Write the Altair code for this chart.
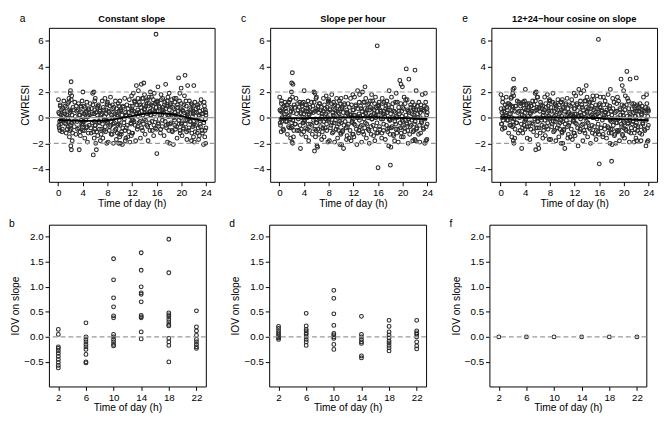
import altair as alt
import pandas as pd

FONT = "Liberation Sans, Arial, sans-serif"

times = [
    0.05, 0.12, 0.2, 0.28, 0.35, 0.45, 0.55, 0.68, 0.8, 0.92,
    1.05, 1.15, 1.3, 1.42, 1.55, 1.65, 1.75, 1.82, 1.9, 1.96,
    2.0, 2.05, 2.1, 2.15, 2.2, 2.28, 2.4, 2.55, 2.7, 2.88,
    3.02, 3.15, 3.3, 3.42, 3.5, 3.6, 3.72, 3.8, 3.88, 3.95,
    4.02, 4.1, 4.2, 4.32, 4.45, 4.55, 4.65, 4.75, 4.85, 4.95,
    5.05, 5.2, 5.35, 5.5, 5.6, 5.7, 5.78, 5.85, 5.92, 5.97,
    6.02, 6.1, 6.2, 6.3, 6.42, 6.55, 6.65, 6.75, 6.85, 6.95,
    7.05, 7.15, 7.25, 7.4, 7.5, 7.6, 7.7, 7.8, 7.88, 7.95,
    8.02, 8.12, 8.25, 8.38, 8.5, 8.6, 8.72, 8.8, 8.9, 8.97,
    9.05, 9.2, 9.3, 9.45, 9.55, 9.65, 9.75, 9.82, 9.9, 9.96,
    10.02, 10.1, 10.2, 10.3, 10.42, 10.55, 10.68, 10.8, 10.9, 10.97,
    11.05, 11.15, 11.3, 11.42, 11.55, 11.65, 11.75, 11.85, 11.92, 11.97,
    12.02, 12.1, 12.2, 12.32, 12.45, 12.58, 12.7, 12.8, 12.9, 12.96,
    13.02, 13.12, 13.25, 13.35, 13.5, 13.6, 13.7, 13.8, 13.9, 13.96,
    14.02, 14.12, 14.25, 14.4, 14.5, 14.6, 14.72, 14.8, 14.9, 14.97,
    15.05, 15.15, 15.3, 15.4, 15.5, 15.6, 15.7, 15.8, 15.88, 15.95,
    16.02, 16.1, 16.2, 16.3, 16.45, 16.6, 16.7, 16.8, 16.9, 16.97,
    17.05, 17.2, 17.3, 17.45, 17.55, 17.65, 17.75, 17.82, 17.9, 17.96,
    18.02, 18.1, 18.2, 18.3, 18.42, 18.55, 18.7, 18.8, 18.9, 18.97,
    19.05, 19.15, 19.3, 19.42, 19.55, 19.65, 19.75, 19.82, 19.9, 19.97,
    20.02, 20.12, 20.25, 20.35, 20.5, 20.6, 20.7, 20.8, 20.9, 20.97,
    21.02, 21.15, 21.3, 21.4, 21.55, 21.65, 21.75, 21.85, 21.92, 21.97,
    22.02, 22.1, 22.2, 22.3, 22.45, 22.6, 22.7, 22.8, 22.9, 22.97,
    23.05, 23.2, 23.35, 23.5, 23.6, 23.7, 23.8, 23.88, 23.95, 24.0,
]

times2 = [
    0.08, 0.18, 0.24, 0.32, 0.4, 0.5, 0.62, 0.74, 0.86, 0.97,
    1.1, 1.22, 1.35, 1.48, 1.6, 1.7, 1.78, 1.86, 1.92, 1.98,
    2.02, 2.08, 2.12, 2.18, 2.25, 2.35, 2.48, 2.62, 2.78, 2.95,
    3.08, 3.22, 3.36, 3.46, 3.55, 3.66, 3.76, 3.84, 3.9, 3.98,
    4.05, 4.15, 4.26, 4.38, 4.5, 4.6, 4.7, 4.8, 4.9, 4.98,
    5.1, 5.28, 5.42, 5.55, 5.65, 5.74, 5.82, 5.88, 5.94, 5.99,
    6.05, 6.15, 6.25, 6.36, 6.48, 6.6, 6.7, 6.8, 6.9, 6.98,
    7.1, 7.2, 7.32, 7.45, 7.55, 7.65, 7.75, 7.84, 7.92, 7.98,
    8.06, 8.18, 8.3, 8.44, 8.55, 8.66, 8.76, 8.85, 8.93, 8.99,
    9.1, 9.25, 9.38, 9.5, 9.6, 9.7, 9.78, 9.86, 9.93, 9.98,
    10.05, 10.15, 10.25, 10.36, 10.48, 10.6, 10.74, 10.85, 10.93, 10.99,
    11.1, 11.22, 11.36, 11.48, 11.6, 11.7, 11.8, 11.88, 11.94, 11.99,
    12.05, 12.15, 12.26, 12.38, 12.5, 12.64, 12.75, 12.85, 12.93, 12.99,
    13.06, 13.18, 13.3, 13.42, 13.55, 13.65, 13.75, 13.85, 13.93, 13.99,
    14.06, 14.18, 14.32, 14.45, 14.55, 14.66, 14.76, 14.85, 14.93, 14.99,
    15.1, 15.22, 15.35, 15.45, 15.55, 15.65, 15.75, 15.84, 15.92, 15.98,
    16.06, 16.15, 16.25, 16.38, 16.52, 16.65, 16.75, 16.85, 16.93, 16.99,
    17.1, 17.25, 17.38, 17.5, 17.6, 17.7, 17.78, 17.86, 17.93, 17.98,
    18.05, 18.15, 18.25, 18.36, 18.48, 18.62, 18.75, 18.85, 18.93, 18.99,
    19.1, 19.22, 19.36, 19.48, 19.6, 19.7, 19.78, 19.86, 19.93, 19.99,
    20.06, 20.18, 20.3, 20.42, 20.55, 20.65, 20.75, 20.85, 20.93, 20.99,
    21.08, 21.22, 21.35, 21.48, 21.6, 21.7, 21.8, 21.88, 21.94, 21.99,
    22.05, 22.15, 22.25, 22.38, 22.52, 22.65, 22.75, 22.85, 22.93, 22.99,
    23.1, 23.28, 23.42, 23.55, 23.65, 23.75, 23.84, 23.9, 23.97, 23.99,
]

cwresi_a = [
    1.4, -0.6, 0.3, -1.0, 1.0, -0.2, 0.6, -0.9, 0.1, 1.3,
    -0.4, 0.9, -1.2, 0.2, 1.1, -0.7, 1.5, -1.5, 0.4, 1.9,
    2.1, -2.2, 2.8, -2.5, 1.7, -1.8, 0.8, -0.3, 1.2, -1.3,
    0.5, -0.9, 1.1, -2.5, 0.2, -1.4, 0.8, -0.5, 1.3, -1.0,
    2.0, -0.3, 0.9, -1.6, 0.4, -0.8, 1.2, -1.9, 0.1, 0.7,
    -0.6, 1.1, -1.2, 0.3, 1.9, -2.9, 2.0, -1.6, 0.6, -0.9,
    1.5, -2.0, -2.5, 0.8, -1.4, 1.0, -0.4, 0.5, -1.8, 0.2,
    -0.9, 1.3, -1.6, 0.6, -0.2, 1.5, -1.1, 0.3, -2.0, 1.0,
    1.2, -1.9, 0.4, -0.7, 1.6, -1.3, 0.0, 1.0, -0.5, -2.0,
    0.8, -1.0, 1.3, -1.7, 0.2, -0.6, 1.1, -2.0, 0.5, -1.3,
    1.3, -2.0, 0.6, -1.1, -2.1, 0.9, -0.4, 1.5, -1.8, 0.2,
    -0.8, 1.0, -1.5, 0.4, 1.4, -1.9, 0.1, -0.5, 1.7, -1.2,
    0.6, -1.2, 1.9, -0.3, 1.2, -1.8, 2.5, 0.3, -0.7, 1.5,
    2.1, -0.4, 1.0, -1.6, 2.6, 0.5, -1.0, 1.5, 2.7, -0.1,
    1.8, -1.3, 0.9, -0.6, 1.4, -1.8, 0.4, 1.1, -1.0, 2.0,
    0.2, 1.6, -1.0, 0.9, -1.4, 1.9, 0.5, -0.8, 6.5, 1.2,
    -2.8, 1.3, 2.4, -0.5, 0.8, -1.2, 1.8, 0.2, -0.7, 1.5,
    0.6, -1.4, 1.2, 2.6, -0.6, 0.9, -1.9, 1.6, 0.1, -1.0,
    1.9, -2.0, 1.0, -0.4, 1.4, -1.1, -2.1, 0.7, -0.2, 1.2,
    -0.9, 1.5, -1.6, 0.8, 3.1, -0.5, 1.9, -1.2, 0.4, 2.3,
    1.1, -1.4, 0.5, -0.8, 1.7, 3.3, -0.2, 0.9, -1.7, 0.2,
    2.5, -1.0, 1.3, -0.3, 0.6, -1.8, 1.0, -0.7, 0.3, -1.5,
    2.5, -1.9, 1.2, -0.6, 0.4, -1.2, 0.8, -1.7, 0.1, 1.1,
    -0.5, 1.4, -1.0, 0.3, -2.1, 1.2, -1.5, 0.6, -2.0, 0.2,
]
cwresi_a2 = [
    0.4, -0.8, -0.3, 0.9, -0.5, 0.2, -1.1, 0.7, -0.2, 0.5,
    0.3, -0.5, 0.8, -0.9, 0.0, 1.2, -0.3, 0.6, -1.0, -0.6,
    0.5, -0.9, 1.4, -0.4, 0.2, -1.2, 0.6, -0.7, 0.1, 0.9,
    -0.3, 0.6, -0.8, 0.2, -1.1, 0.9, -0.2, 0.4, -0.6, 0.1,
    -0.5, 0.3, -1.0, 0.8, -0.2, 0.5, -0.7, 0.1, -1.2, 0.6,
    0.2, -0.8, 0.7, -0.4, 1.0, -1.1, 0.3, -0.3, 1.3, -0.6,
    -0.6, 0.4, -1.1, 0.2, 0.9, -0.3, -0.9, 0.6, -0.1, -1.3,
    0.3, -0.5, 0.8, -1.0, 0.1, -0.7, 0.6, -0.2, 1.1, -0.4,
    -0.3, 0.5, -1.0, 0.9, -0.6, 0.2, -1.3, 0.7, -0.1, 0.4,
    -0.4, 0.3, -0.9, 0.7, -1.2, 0.1, -0.5, 0.9, -0.2, -1.5,
    -0.6, 0.5, -1.3, 0.2, -0.8, 0.8, -0.1, -1.0, 0.4, -1.6,
    0.2, -0.6, 0.7, -1.1, 0.1, 0.9, -0.4, -1.4, 0.5, -0.2,
    0.9, -0.2, 0.5, 1.3, -0.6, 0.3, 1.0, -0.9, 0.6, 0.1,
    0.4, 1.2, -0.3, 0.8, -0.8, 1.5, 0.2, -0.5, 1.0, 0.6,
    0.7, -0.2, 1.3, 0.3, -0.7, 0.9, 1.6, -0.4, 0.5, 0.2,
    1.0, -0.3, 0.6, 1.4, -0.6, 0.3, 1.1, -0.1, 0.8, -0.9,
    0.5, 1.2, -0.4, 0.9, 0.2, -0.9, 1.4, 0.6, -0.2, 0.8,
    0.4, 1.0, -0.3, 0.7, -0.8, 1.3, 0.2, -0.5, 0.9, 0.1,
    0.6, -0.5, 1.1, 0.3, -1.0, 0.8, 0.0, 1.5, -0.6, 0.4,
    0.2, -0.7, 1.0, 0.5, -0.2, 1.3, -1.0, 0.7, 0.0, -0.5,
    -0.4, 0.6, -0.9, 1.0, 0.1, -0.5, 1.3, -1.1, 0.4, -0.2,
    0.3, -0.8, 0.7, -0.3, 1.1, -1.2, 0.1, 0.5, -0.6, 0.9,
    -0.5, 0.4, -1.1, 0.7, -0.2, 1.0, -0.8, 0.2, -1.4, 0.5,
    -0.7, 0.3, -1.2, 0.6, -0.4, 0.9, -1.0, -0.1, 0.4, -0.8,
]

cwresi_c = [
    1.6, -0.4, 0.5, -1.1, 1.3, 0.0, 0.8, -1.0, 0.3, 1.2,
    -0.3, 1.0, -1.3, 0.1, 1.2, -0.8, 1.4, -1.6, 0.5, 2.0,
    2.7, -1.9, 3.5, -2.0, 2.6, -1.5, 1.0, -0.5, 1.5, -1.0,
    0.6, -1.0, 1.2, -2.4, 0.3, -1.3, 0.9, -0.4, 1.2, -1.1,
    2.1, -0.2, 1.0, -1.5, 0.5, -0.9, 1.3, -1.8, 0.2, 0.8,
    -0.5, 1.2, -1.3, 0.4, 2.0, -2.6, 1.9, -1.5, 0.7, -1.0,
    1.6, -2.2, -2.3, 0.9, -1.3, 1.1, -0.3, 0.6, -1.7, 0.3,
    -0.8, 1.5, -1.5, 0.7, -0.1, 1.7, -1.0, 0.4, -1.9, 1.2,
    1.4, -1.8, 0.6, -0.6, 1.8, -1.2, 0.2, 1.2, -0.4, -1.9,
    1.0, -0.9, 1.5, -1.6, 0.4, -0.5, 1.3, -2.1, 0.7, -1.2,
    1.5, -2.1, 0.8, -1.0, -2.4, 1.1, -0.3, 1.6, -1.7, 0.4,
    -0.7, 1.1, -1.6, 0.3, 1.5, -1.8, 0.0, -0.4, 1.8, -1.3,
    0.2, -1.5, 1.6, -0.6, 0.9, -2.1, 2.1, 0.0, -1.0, 1.2,
    1.8, -0.7, 0.7, -1.9, 2.0, 0.2, -1.3, 1.2, 2.4, -0.4,
    1.5, -1.6, 0.6, -0.9, 1.1, -2.0, 0.1, 0.8, -1.3, 1.8,
    -0.1, 1.3, -1.4, 0.6, -1.8, 1.6, 0.2, -1.2, 5.6, 0.9,
    -3.9, 1.0, 1.2, -0.9, 0.5, -1.6, 1.5, -0.1, -1.0, 1.2,
    0.3, -1.7, 0.9, 1.3, -0.9, 0.6, -2.2, 2.1, -0.2, -1.3,
    -3.7, -2.3, 1.6, -0.7, 1.1, -1.4, -1.8, 0.4, -0.5, 1.9,
    -1.2, 1.2, -1.9, 0.5, 2.9, -0.8, 2.6, -1.5, 0.1, 2.4,
    0.8, -1.5, 1.6, -1.1, 1.4, 3.8, -0.5, 0.6, -2.0, -0.1,
    3.0, -1.3, 1.0, -0.6, 0.3, -1.8, 0.7, -1.0, 0.0, -1.7,
    3.7, -1.8, 2.1, -0.8, 0.3, -1.3, 0.6, -1.9, 0.0, 1.0,
    -0.3, 1.8, -0.8, 0.5, -2.0, 1.9, -1.8, 0.8, -1.7, 0.4,
]
cwresi_c2 = [
    0.6, -0.6, -0.1, 1.1, -0.3, 0.4, -0.9, 0.9, 0.0, 0.7,
    0.5, -0.3, 1.0, -0.7, 0.2, 1.4, -0.1, 0.8, -0.8, -0.4,
    0.7, -0.7, 1.6, -0.2, 0.4, -1.0, 0.8, -0.5, 0.3, 1.1,
    -0.1, 0.8, -0.6, 0.4, -0.9, 1.1, 0.0, 0.6, -0.4, 0.3,
    -0.3, 0.5, -0.8, 1.0, 0.0, 0.7, -0.5, 0.3, -1.0, 0.8,
    0.4, -0.6, 0.9, -0.2, 1.2, -0.9, 0.5, -0.1, 1.5, -0.4,
    -0.4, 0.6, -0.9, 0.4, 1.1, -0.1, -0.7, 0.8, 0.1, -1.1,
    0.5, -0.3, 1.0, -0.8, 0.3, -0.5, 0.8, 0.0, 1.3, -0.2,
    -0.1, 0.7, -0.8, 1.1, -0.4, 0.4, -1.1, 0.9, 0.1, 0.6,
    -0.2, 0.5, -0.7, 0.9, -1.0, 0.3, -0.3, 1.1, 0.0, -1.3,
    -0.4, 0.7, -1.1, 0.4, -0.6, 1.0, 0.1, -0.8, 0.6, -1.4,
    0.3, -0.5, 0.8, -1.0, 0.2, 1.0, -0.3, -1.3, 0.6, -0.1,
    0.6, -0.5, 0.2, 1.0, -0.9, 0.0, 0.7, -1.2, 0.3, -0.2,
    0.1, 0.9, -0.6, 0.5, -1.1, 1.2, -0.1, -0.8, 0.7, 0.3,
    0.4, -0.5, 1.0, 0.0, -1.0, 0.6, 1.3, -0.7, 0.2, -0.1,
    0.7, -0.6, 0.3, 1.1, -0.9, 0.0, 0.8, -0.4, 0.5, -1.2,
    0.2, 0.9, -0.7, 0.6, -0.1, -1.2, 1.1, 0.3, -0.5, 0.5,
    0.1, 0.7, -0.6, 0.4, -1.1, 1.0, -0.1, -0.8, 0.6, -0.2,
    0.3, -0.8, 0.8, 0.0, -1.3, 0.5, -0.3, 1.2, -0.9, 0.1,
    0.0, -0.9, 0.8, 0.3, -0.4, 1.1, -1.2, 0.5, -0.2, -0.7,
    -0.3, 0.7, -0.8, 1.1, 0.2, -0.4, 1.4, -1.0, 0.5, -0.1,
    0.4, -0.7, 0.8, -0.2, 1.2, -1.1, 0.2, 0.6, -0.5, 1.0,
    -0.3, 0.6, -0.9, 0.9, 0.0, 1.2, -0.6, 0.4, -1.2, 0.7,
    -0.4, 0.6, -0.9, 0.9, -0.1, 1.2, -0.7, 0.2, 0.7, -0.5,
]

cwresi_e = [
    1.8, -0.5, 0.4, -0.9, 1.5, 0.1, 0.7, -0.8, 0.2, 1.6,
    -0.2, 1.1, -1.2, 0.3, 1.0, -0.6, 1.6, -1.5, 0.6, 1.9,
    2.2, -1.8, 3.0, -2.0, 2.3, -1.6, 0.9, -0.4, 1.3, -1.2,
    0.5, -1.0, 1.1, -2.4, 0.2, -1.2, 1.0, -0.6, 1.3, -0.9,
    2.2, -0.1, 1.0, -1.6, 0.6, -0.7, 1.1, -1.7, 0.3, 0.9,
    -0.4, 1.3, -1.1, 0.5, 1.9, -2.5, 2.0, -1.4, 0.8, -0.8,
    1.6, -2.1, -2.4, 0.8, -1.2, 1.0, -0.2, 0.7, -1.6, 0.4,
    -0.7, 1.6, -1.4, 0.8, 0.0, 1.8, -0.9, 0.5, -1.7, 1.3,
    1.3, -1.7, 0.5, -0.5, 1.9, -1.1, 0.1, 1.1, -0.3, -1.8,
    0.9, -0.8, 1.4, -1.5, 0.3, -0.4, 1.2, -2.0, 0.6, -1.1,
    1.4, -2.0, 0.7, -0.9, -2.4, 1.0, -0.2, 1.5, -1.6, 0.3,
    -0.6, 1.0, -1.5, 0.2, 1.4, -1.7, 0.1, -0.3, 1.9, -1.2,
    0.3, -1.4, 1.7, -0.5, 1.0, -2.2, 2.2, 0.1, -0.9, 1.3,
    1.9, -0.6, 0.8, -1.8, 2.1, 0.3, -1.2, 1.3, 2.5, -0.3,
    1.6, -1.5, 0.7, -0.8, 1.2, -2.0, 0.2, 0.9, -1.2, 1.7,
    0.0, 1.4, -1.3, 0.7, -1.7, 1.7, 0.3, -1.1, 6.1, 1.0,
    -3.6, 1.1, 1.6, -0.8, 0.6, -1.5, 1.6, 0.0, -0.9, 1.3,
    0.4, -1.6, 1.0, 1.8, -0.8, 0.7, -2.0, 2.2, -0.1, -1.2,
    -3.4, -2.1, 1.5, -0.6, 1.2, -1.3, -2.0, 0.5, -0.4, 1.6,
    -1.1, 1.3, -1.8, 0.6, 3.0, -0.7, 2.5, -1.4, 0.2, 2.1,
    0.9, -1.6, 1.7, -1.0, 3.6, 1.5, -0.4, 0.7, -1.9, 0.0,
    3.0, -1.2, 1.1, -0.5, 0.4, -1.9, 0.8, -0.9, 0.1, -1.6,
    3.1, -1.8, 1.0, -0.7, 0.5, -1.2, 0.7, -1.8, 0.2, 0.9,
    -0.4, 1.6, -0.9, 0.4, -2.2, 1.8, -1.9, 0.7, -1.8, 0.5,
]
cwresi_e2 = [
    0.7, -0.5, 0.0, 1.2, -0.2, 0.5, -0.8, 1.0, 0.1, 0.8,
    0.6, -0.2, 1.1, -0.6, 0.3, 1.5, 0.0, 0.9, -0.7, -0.3,
    0.8, -0.6, 1.7, -0.1, 0.5, -0.9, 0.9, -0.4, 0.4, 1.2,
    0.0, 0.9, -0.5, 0.5, -0.8, 1.2, 0.1, 0.7, -0.3, 0.4,
    -0.2, 0.6, -0.7, 1.1, 0.1, 0.8, -0.4, 0.4, -0.9, 0.9,
    0.5, -0.5, 1.0, -0.1, 1.3, -0.8, 0.6, 0.0, 1.6, -0.3,
    -0.3, 0.7, -0.8, 0.5, 1.2, 0.0, -0.6, 0.9, 0.2, -1.0,
    0.6, -0.2, 1.1, -0.7, 0.4, -0.4, 0.9, 0.1, 1.4, -0.1,
    0.0, 0.8, -0.7, 1.2, -0.3, 0.5, -1.0, 1.0, 0.2, 0.7,
    -0.1, 0.6, -0.6, 1.0, -0.9, 0.4, -0.2, 1.2, 0.1, -1.2,
    -0.3, 0.8, -1.0, 0.5, -0.5, 1.1, 0.2, -0.7, 0.7, -1.3,
    0.4, -0.4, 0.9, -0.9, 0.3, 1.1, -0.2, -1.2, 0.7, 0.0,
    0.7, -0.4, 0.3, 1.1, -0.8, 0.1, 0.8, -1.1, 0.4, -0.1,
    0.2, 1.0, -0.5, 0.6, -1.0, 1.3, 0.0, -0.7, 0.8, 0.4,
    0.5, -0.4, 1.1, 0.1, -0.9, 0.7, 1.4, -0.6, 0.3, 0.0,
    0.6, -0.7, 0.2, 1.0, -1.0, -0.1, 0.7, -0.5, 0.4, -1.3,
    0.1, 0.8, -0.8, 0.5, -0.2, -1.3, 1.0, 0.2, -0.6, 0.4,
    0.0, 0.6, -0.7, 0.3, -1.2, 0.9, -0.2, -0.9, 0.5, -0.3,
    0.2, -0.9, 0.7, -0.1, -1.4, 0.4, -0.4, 1.1, -1.0, 0.0,
    -0.1, -1.0, 0.7, 0.2, -0.5, 1.0, -1.3, 0.4, -0.3, -0.8,
    -0.4, 0.6, -0.9, 1.0, 0.1, -0.5, 1.3, -1.1, 0.4, -0.2,
    0.3, -0.8, 0.7, -0.3, 1.1, -1.2, 0.1, 0.5, -0.6, 0.9,
    -0.4, 0.5, -1.0, 0.8, -0.1, 1.1, -0.7, 0.3, -1.3, 0.6,
    -0.5, 0.5, -1.0, 0.8, -0.2, 1.1, -0.8, 0.1, 0.6, -0.6,
]

smooth_t = [0, 2, 4, 6, 8, 10, 12, 14, 16, 18, 20, 22, 24]
smooth_a = [-0.18, -0.22, -0.25, -0.25, -0.2, -0.05, 0.12, 0.3, 0.37, 0.3, 0.12, -0.1, -0.3]
smooth_c = [-0.05, -0.05, -0.04, -0.02, 0.0, 0.02, 0.03, 0.03, 0.02, 0.0, -0.03, -0.07, -0.1]
smooth_e = [0.02, 0.02, 0.02, 0.02, 0.02, 0.02, 0.02, 0.0, -0.03, -0.08, -0.12, -0.16, -0.2]

occasions = [2, 6, 10, 14, 18, 22]
iov_b = [
    [0.15, 0.05, -0.2, -0.23, -0.28, -0.33, -0.39, -0.45, -0.51, -0.57, -0.62],
    [0.28, 0.0, -0.05, -0.1, -0.15, -0.2, -0.25, -0.35, -0.5, -0.52],
    [1.56, 1.14, 0.78, 0.6, 0.42, 0.38, 0.05, 0.0, -0.05, -0.1, -0.15, -0.18],
    [1.68, 1.33, 1.0, 0.88, 0.85, 0.7, 0.43, 0.4, 0.38, 0.1, -0.04],
    [1.95, 1.28, 0.48, 0.44, 0.4, 0.35, 0.3, 0.25, 0.22, -0.03, -0.1, -0.17, -0.5],
    [0.52, 0.2, 0.12, 0.03, -0.05, -0.1, -0.15, -0.2, -0.23],
]
iov_d = [
    [0.21, 0.17, 0.12, 0.08, 0.04, 0.0, -0.02, -0.05],
    [0.47, 0.22, 0.15, 0.12, 0.08, 0.05, 0.0, -0.05, -0.1, -0.17],
    [0.93, 0.77, 0.46, 0.23, 0.07, 0.04, 0.0, -0.03, -0.15, -0.25],
    [0.41, 0.05, 0.0, -0.05, -0.1, -0.13, -0.38, -0.42],
    [0.33, 0.21, 0.1, 0.04, -0.02, -0.08, -0.12, -0.17, -0.22, -0.28],
    [0.33, 0.12, 0.08, 0.05, 0.0, -0.1, -0.18, -0.24],
]
iov_f = [[0.0], [0.0], [0.0], [0.0], [0.0], [0.0]]

titles = ["Constant slope", "Slope per hour", "12+24\u2212hour cosine on slope"]

PT = "#2a2a2a"
GR = "#9a9a9a"
ONE = pd.DataFrame({"k": [0]})

# equal panel geometry in each row, so the grid alignment is unambiguous
TOP_W, TOP_H, TOP_L = 170, 158, 30
BOT_W, BOT_H, BOT_L = 161, 166, 41


def label(text, dx, dy, bold=False, size=10.5, align="left"):
    return alt.Chart(ONE).mark_text(
        text=text, align=align, baseline="middle", fontSize=size,
        fontWeight="bold" if bold else "normal", color="black", font=FONT,
    ).encode(x=alt.value(dx), y=alt.value(dy))


def top_panel(resid, resid2, smooth, title, letter):
    xs = alt.Scale(domain=[-1.5, 25.4], nice=False, zero=False)
    ys = alt.Scale(domain=[-5, 7], nice=False, zero=False)
    xa = alt.Axis(values=[0, 4, 8, 12, 16, 20, 24], title="Time of day (h)")
    ya = alt.Axis(values=[-4, -2, 0, 2, 4, 6], title="CWRESI",
                  minExtent=14, maxExtent=14, titlePadding=5)
    X = alt.X("t:Q", scale=xs, axis=xa)
    Y = alt.Y("r:Q", scale=ys, axis=ya)
    df = pd.DataFrame({"t": times + times2, "r": resid + resid2})
    pts = alt.Chart(df).mark_point(
        shape="circle", filled=False, size=15, strokeWidth=1.1, color=PT, opacity=1
    ).encode(x=X, y=Y)
    dash = alt.Chart(pd.DataFrame({"r": [-2, 2]})).mark_rule(
        color=GR, strokeWidth=1.2, strokeDash=[5, 3]
    ).encode(y=Y)
    zero = alt.Chart(pd.DataFrame({"r": [0]})).mark_rule(color=GR, strokeWidth=1.2).encode(y=Y)
    sm = alt.Chart(pd.DataFrame({"t": smooth_t, "r": smooth})).mark_line(
        color="black", strokeWidth=2, interpolate="monotone"
    ).encode(x=X, y=Y)
    return alt.layer(
        pts, dash, zero, sm,
        label(title, TOP_W / 2, -9, bold=True, size=9.5, align="center"),
        label(letter, -TOP_L, -9),
    ).properties(width=TOP_W, height=TOP_H)


def bottom_panel(iov, letter):
    xs = alt.Scale(domain=[0.64, 23.36], nice=False, zero=False)
    ys = alt.Scale(domain=[-0.99, 2.24], nice=False, zero=False)
    xa = alt.Axis(values=occasions, title="Time of day (h)")
    ya = alt.Axis(values=[-0.5, 0, 0.5, 1.0, 1.5, 2.0], format=".1f",
                  title="IOV on slope", minExtent=26, maxExtent=26, titlePadding=3)
    X = alt.X("o:Q", scale=xs, axis=xa)
    Y = alt.Y("v:Q", scale=ys, axis=ya)
    rows = []
    for occ, vals in zip(occasions, iov):
        for v in vals:
            rows.append({"o": occ, "v": v})
    df = pd.DataFrame(rows)
    pts = alt.Chart(df).mark_point(
        shape="circle", filled=False, size=15, strokeWidth=1.1, color=PT, opacity=1
    ).encode(x=X, y=Y)
    zero = alt.Chart(pd.DataFrame({"v": [0]})).mark_rule(
        color=GR, strokeWidth=1.2, strokeDash=[5, 3]
    ).encode(y=Y)
    return alt.layer(pts, zero, label(letter, -BOT_L, -1)).properties(width=BOT_W, height=BOT_H)


top = alt.hconcat(
    top_panel(cwresi_a, cwresi_a2, smooth_a, titles[0], "a"),
    top_panel(cwresi_c, cwresi_c2, smooth_c, titles[1], "c"),
    top_panel(cwresi_e, cwresi_e2, smooth_e, titles[2], "e"),
    spacing=24,
)
bottom = alt.hconcat(
    bottom_panel(iov_b, "b"),
    bottom_panel(iov_d, "d"),
    bottom_panel(iov_f, "f"),
    spacing=21,
)

chart = alt.vconcat(top, bottom, spacing=9).properties(
    padding={"left": 0, "top": 0, "right": 0, "bottom": 0}, background="white"
).configure(font=FONT).configure_view(
    stroke="black", strokeWidth=1
).configure_axis(
    domain=False, grid=False, ticks=True, tickColor="black", tickSize=4, tickWidth=1,
    labelFont=FONT, labelFontSize=10, labelColor="black", labelPadding=2,
    titleFont=FONT, titleFontSize=10.5, titleFontWeight="normal", titleColor="black",
).configure_axisX(titlePadding=1)

chart.save("out.html", embed_options={"renderer": "svg", "actions": False})
